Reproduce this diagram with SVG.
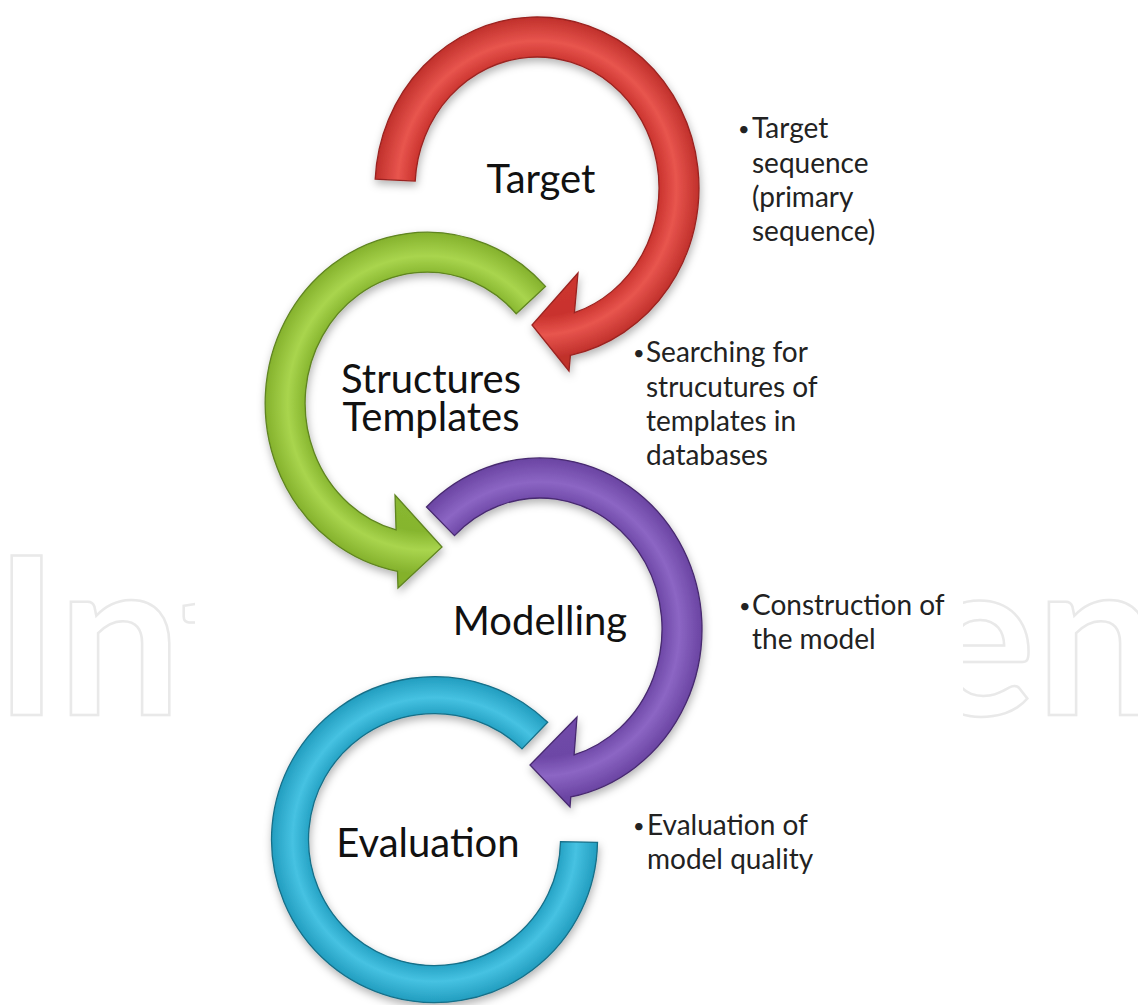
<svg xmlns="http://www.w3.org/2000/svg" width="1138" height="1005" viewBox="0 0 1138 1005">
<style>
.wm{font-family:Lato,"Open Sans",sans-serif;font-weight:700;font-size:220px;fill:none;stroke:#e9e9e9;stroke-width:2.5}
.lbl{font-family:Lato,"Noto Sans",sans-serif;font-size:40px;fill:#111;text-anchor:middle}
.note{font-family:Lato,"Noto Sans",sans-serif;font-size:28px;fill:#222}
.bul{font-family:Lato,"Noto Sans",sans-serif;font-size:20px;fill:#222}
.ring{filter:url(#sh);stroke-width:1.3}
</style>
<defs>
<filter id="sh" x="-20%" y="-20%" width="140%" height="140%">
<feDropShadow dx="1" dy="4" stdDeviation="4" flood-color="#000" flood-opacity="0.3"/>
</filter>
<clipPath id="wmclip"><rect x="0" y="500" width="195" height="260"/><rect x="963" y="500" width="175" height="260"/></clipPath>
<radialGradient id="gRed" gradientUnits="userSpaceOnUse" cx="537" cy="188" r="162" gradientTransform="translate(537,188) scale(1,1.0556) translate(-537,-188)">
<stop offset="0" stop-color="#d43e38"/><stop offset="0.75" stop-color="#c9322d"/><stop offset="0.86" stop-color="#e8554e"/><stop offset="1" stop-color="#c0302b"/>
</radialGradient>
<radialGradient id="gGreen" gradientUnits="userSpaceOnUse" cx="427" cy="403" r="162" gradientTransform="translate(427,403) scale(1,1.0556) translate(-427,-403)">
<stop offset="0" stop-color="#92c13a"/><stop offset="0.75" stop-color="#86b52e"/><stop offset="0.86" stop-color="#a9d54e"/><stop offset="1" stop-color="#84b12c"/>
</radialGradient>
<radialGradient id="gPurple" gradientUnits="userSpaceOnUse" cx="540" cy="629" r="162" gradientTransform="translate(540,629) scale(1,1.0556) translate(-540,-629)">
<stop offset="0" stop-color="#7a52b3"/><stop offset="0.75" stop-color="#6d47a6"/><stop offset="0.86" stop-color="#8c66c4"/><stop offset="1" stop-color="#6a44a2"/>
</radialGradient>
<radialGradient id="gCyan" gradientUnits="userSpaceOnUse" cx="434.5" cy="839.5" r="163">
<stop offset="0" stop-color="#2fb0d2"/><stop offset="0.77" stop-color="#25a2c4"/><stop offset="0.87" stop-color="#46c2e2"/><stop offset="1" stop-color="#229dbf"/>
</radialGradient>
</defs>
<rect x="0" y="0" width="1138" height="1005" fill="#fff"/>
<g id="watermark" clip-path="url(#wmclip)">
<text class="wm" x="-6" y="715">Int</text>
<text class="wm" x="918" y="715">en</text>
</g>
<g id="connectors">
<path id="arrow-red" class="ring" fill="url(#gRed)" stroke="#9a2420" d="M375.2,179.1 A162,171 0 1,1 570.4,355.3 L569,371 L532,325 L578,273 L574.4,312.7 A122,131 0 1,0 415.2,181.1 Z"/>
<path id="arrow-green" class="ring" fill="url(#gGreen)" stroke="#5f8420" d="M545.5,286.4 A162,171 0 1,0 397.5,571.3 L398,588 L442,547 L395,495 L396.1,529.9 A122,131 0 1,1 516.2,313.7 Z"/>
<path id="arrow-purple" class="ring" fill="url(#gPurple)" stroke="#47296f" d="M426.5,507 A162,171 0 1,1 570.8,796.9 L570,807 L530,765 L577,717 L574.1,754.8 A122,131 0 1,0 454.5,535.6 Z"/>
<path id="arrow-cyan" class="ring" fill="url(#gCyan)" stroke="#176f88" d="M547.7,722.3 A163,163 0 1,0 597.5,842.3 L560.5,841.7 A126,126 0 1,1 522,748.9 Z"/>
</g>
<g id="node-target">
<text class="lbl" x="541" y="193">Target</text>
<text class="bul" x="738" y="136">•</text>
<text class="note" x="752" y="138">Target</text>
<text class="note" x="752" y="173">sequence</text>
<text class="note" x="752" y="207">(primary</text>
<text class="note" x="752" y="241">sequence)</text>
</g>
<g id="node-structures">
<text class="lbl" x="431" y="393">Structures</text>
<text class="lbl" x="431" y="431">Templates</text>
<text class="bul" x="633" y="360">•</text>
<text class="note" x="646" y="362">Searching for</text>
<text class="note" x="646" y="397">strucutures of</text>
<text class="note" x="646" y="431">templates in</text>
<text class="note" x="646" y="465">databases</text>
</g>
<g id="node-modelling">
<text class="lbl" x="540" y="635">Modelling</text>
<text class="bul" x="739" y="613">•</text>
<text class="note" x="752" y="615">Construction of</text>
<text class="note" x="752" y="649">the model</text>
</g>
<g id="node-evaluation">
<text class="lbl" x="428" y="857">Evaluation</text>
<text class="bul" x="633" y="833">•</text>
<text class="note" x="647" y="835">Evaluation of</text>
<text class="note" x="647" y="869">model quality</text>
</g>
</svg>
